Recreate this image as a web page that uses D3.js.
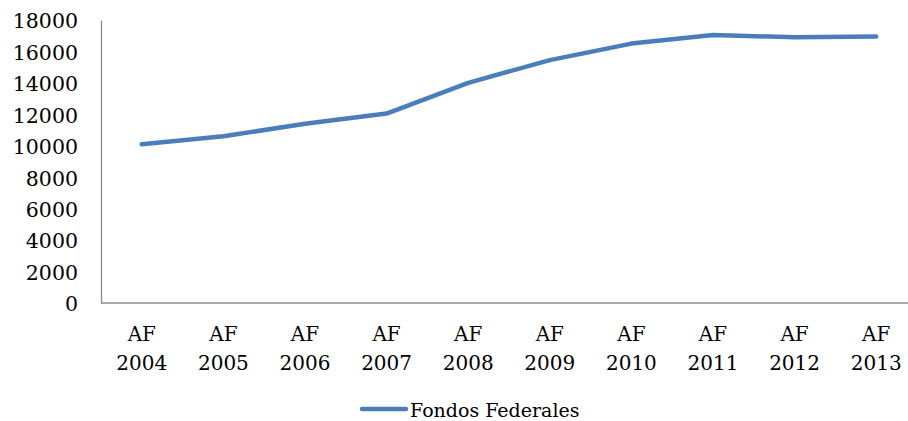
<!DOCTYPE html>
<meta charset="utf-8">
<head>
    <style>
        body { margin: 0; background: #fff; }
        svg { display: block; }
        text { font-family: "DejaVu Serif", serif; font-size: 20px; fill: #000; }
    </style>
    <script src="https://d3js.org/d3.v7.min.js"></script>
</head>
<body>
<script>
    const categories = ["AF 2004", "AF 2005", "AF 2006", "AF 2007", "AF 2008",
                        "AF 2009", "AF 2010", "AF 2011", "AF 2012", "AF 2013"]
    const fondosFederales = [10100, 10600, 11400, 12050, 14000, 15450, 16500, 17050, 16900, 16950]
    const yTicks = [0, 2000, 4000, 6000, 8000, 10000, 12000, 14000, 16000, 18000]
    const seriesName = "Fondos Federales"

    const width = 908
    const height = 421
    const plotLeft = 101, plotTop = 20, plotBottom = 303
    const bandWidth = 81.6

    const svg = d3.select("body").append("svg")
        .attr("width", width)
        .attr("height", height)

    const x = d3.scaleBand()
        .domain(categories)
        .range([plotLeft, plotLeft + bandWidth * categories.length])

    const y = d3.scaleLinear()
        .domain([0, 18000])
        .range([plotBottom, plotTop])

    // y axis
    const yAxis = svg.append("g")
        .attr("transform", `translate(${plotLeft},0)`)
        .call(d3.axisLeft(y).tickValues(yTicks).tickSize(0).tickPadding(23).tickFormat(d3.format("d")))
    yAxis.select(".domain").attr("stroke", "#8c8c8c").attr("stroke-width", 1.3)
    yAxis.selectAll("text").style("font-size", "20.5px").attr("dy", "0.38em")

    // x axis
    const xAxis = svg.append("g")
        .attr("transform", `translate(0,${plotBottom})`)
        .call(d3.axisBottom(x).tickSize(0).tickFormat(""))
    xAxis.select(".domain").attr("stroke", "#8c8c8c").attr("stroke-width", 1.3)
        .attr("d", `M${plotLeft},0H${width}`)

    const xl = svg.append("g").selectAll("text")
        .data(categories)
        .enter()
        .append("text")
        .attr("text-anchor", "middle")
    xl.append("tspan").attr("x", d => x(d) + x.bandwidth() / 2).attr("y", 341).text(d => d.split(" ")[0])
    xl.append("tspan").attr("x", d => x(d) + x.bandwidth() / 2).attr("y", 370).text(d => d.split(" ")[1])

    // line
    const line = d3.line()
        .x((d, i) => x(categories[i]) + x.bandwidth() / 2)
        .y(d => y(d))

    svg.append("path")
        .datum(fondosFederales)
        .attr("fill", "none")
        .attr("stroke", "#4a7ebb")
        .attr("stroke-width", 4.5)
        .attr("stroke-linejoin", "round")
        .attr("stroke-linecap", "round")
        .attr("d", line)

    // legend
    const legend = svg.append("g")
    legend.append("line")
        .attr("x1", 362).attr("x2", 406)
        .attr("y1", 409).attr("y2", 409)
        .attr("stroke", "#4a7ebb")
        .attr("stroke-width", 4.5)
        .attr("stroke-linecap", "round")
    legend.append("text")
        .attr("x", 410).attr("y", 417)
        .style("font-size", "19px")
        .text(seriesName)
</script>
</body>
